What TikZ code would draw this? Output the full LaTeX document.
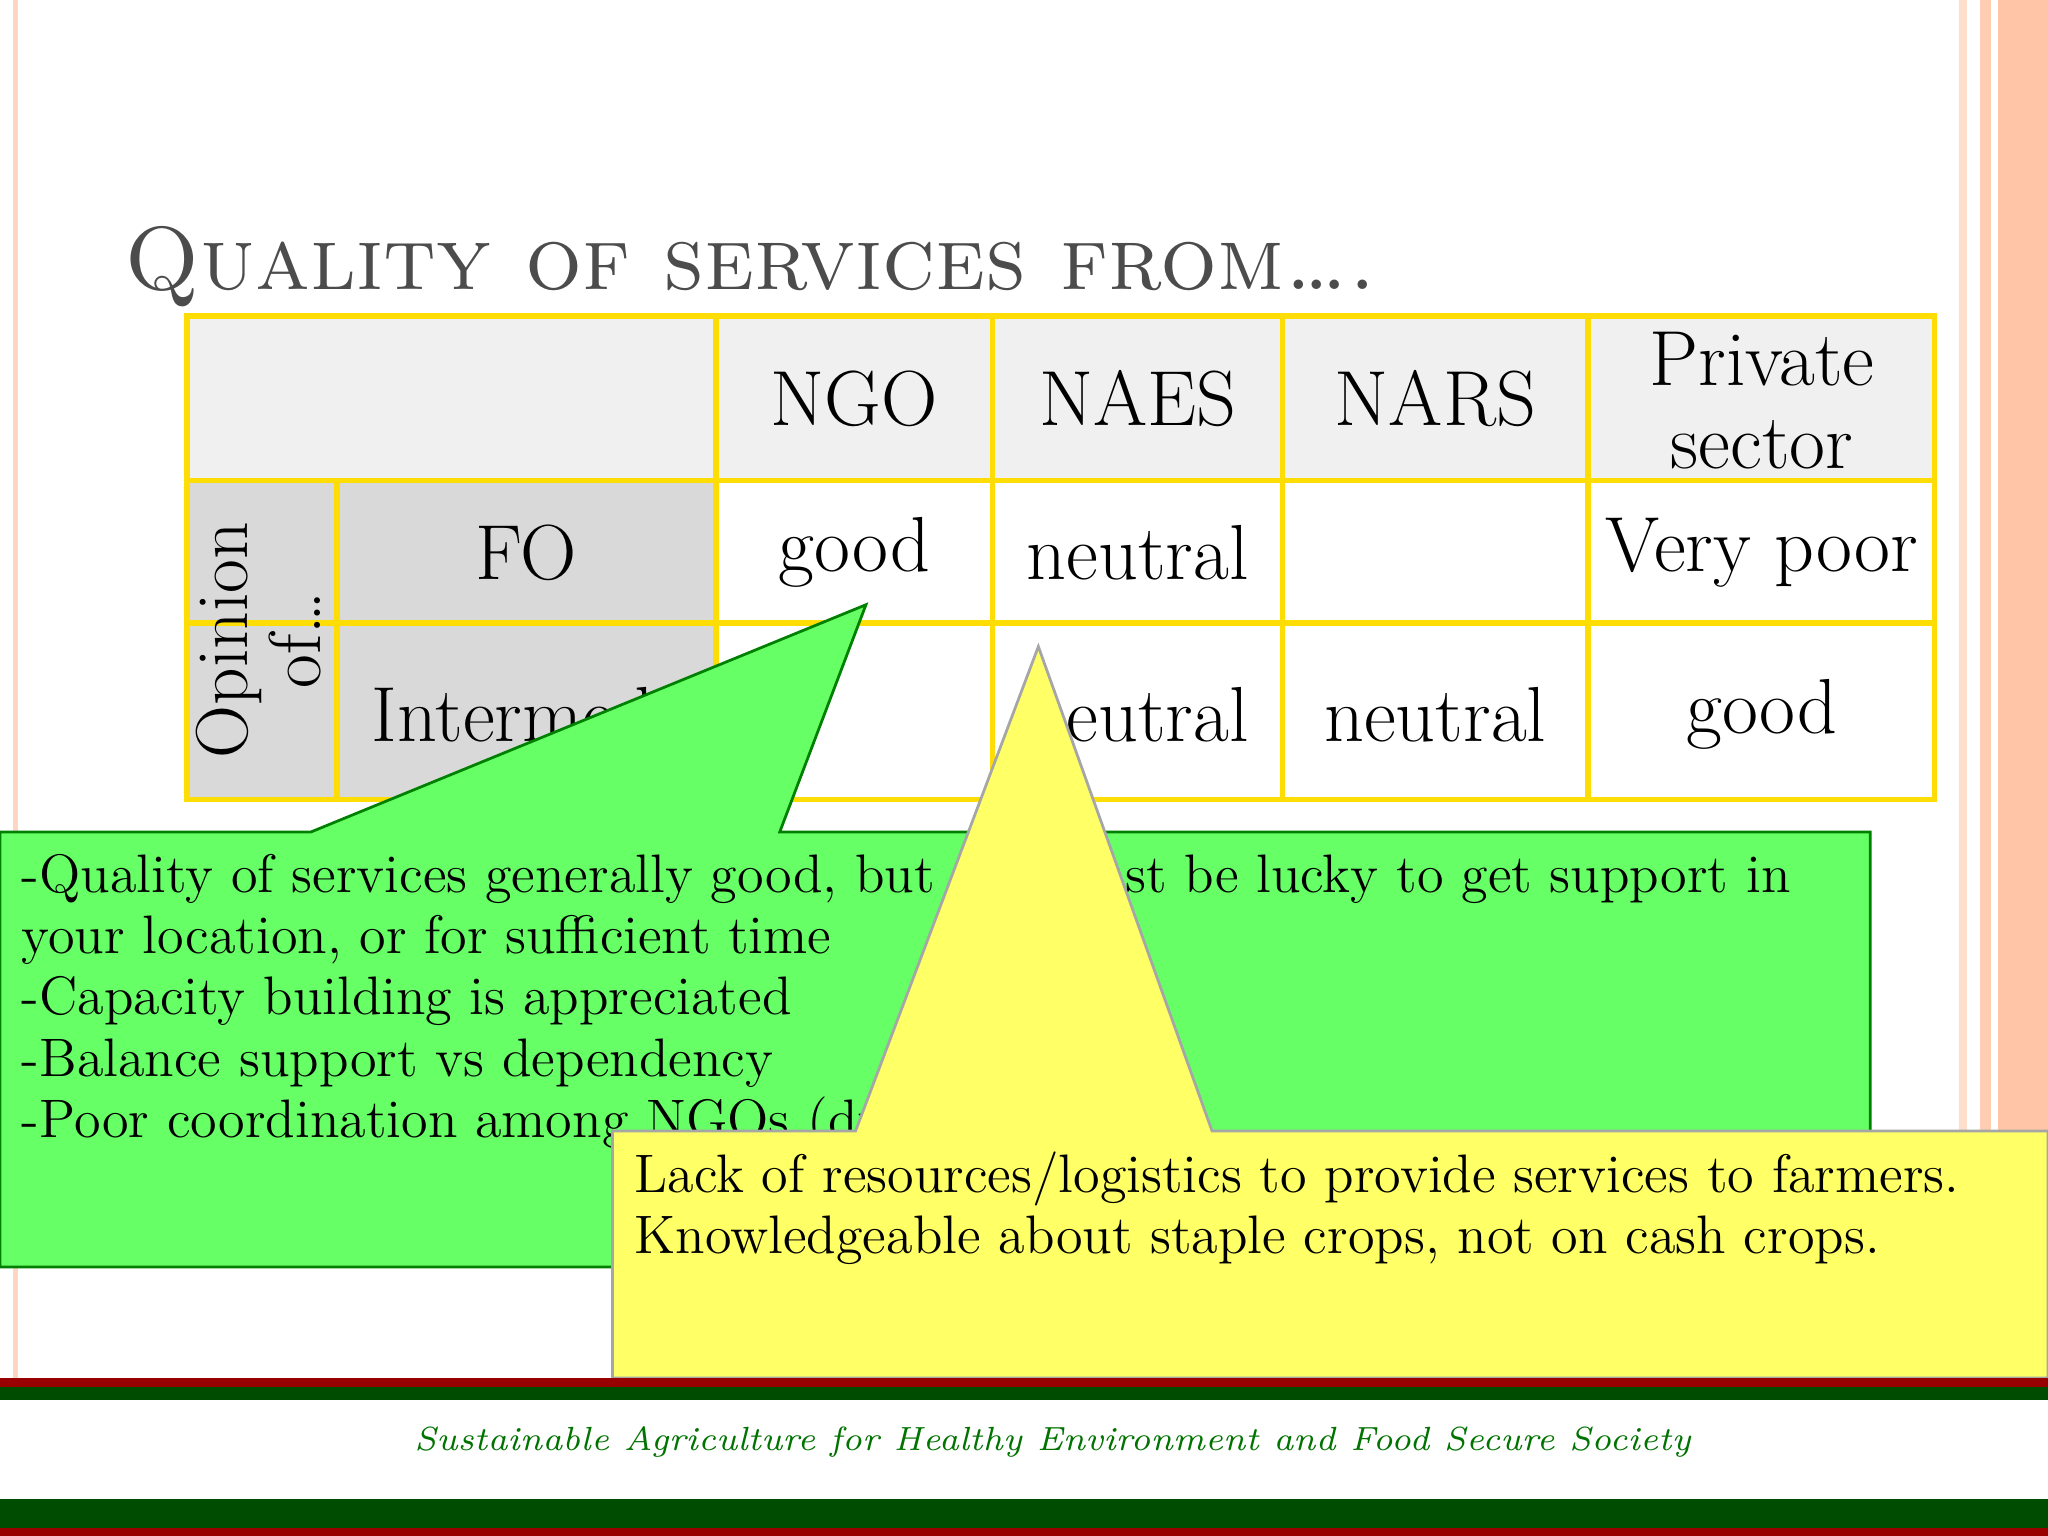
\documentclass[tikz,border=0pt]{standalone}
\begin{document}
\begin{tikzpicture}[x=0.01cm,y=-0.01cm,
  cellt/.style={font=\fontsize{17}{20}\selectfont},
  body/.style={anchor=base west,font=\fontsize{11.8}{13}\selectfont,inner sep=0pt}]
\useasboundingbox (0,0) rectangle (1568,1176);
\fill[white] (0,0) rectangle (1568,1176);
% side stripes
\fill[red!30!orange!25] (10,0) rectangle (14,1055);
\fill[red!30!orange!20] (1500,0) rectangle (1506,1055);
\fill[red!30!orange!30] (1516,0) rectangle (1524,1055);
\fill[red!30!orange!35] (1530,0) rectangle (1568,1055);
% title
\node[anchor=base west,inner sep=0pt,text=gray!60!black,font=\fontsize{19.5}{24}\selectfont\scshape] (title) at (95,222) {Quality of services from\ldots.};
% table fills
\fill[gray!12] (143,242) rectangle (1481,368);
\fill[gray!30] (143,368) rectangle (548,612);
\fill[white] (548,368) rectangle (1481,612);
\begin{scope}[draw=yellow!80!orange, line width=1.2pt]
\draw (143,242) rectangle (1481,612);
\foreach \y in {368,477} \draw (143,\y) -- (1481,\y);
\draw (143,368) -- (143,612);
\draw (258,368) -- (258,612);
\foreach \x in {548,760,982,1216} \draw (\x,242) -- (\x,612);
\end{scope}
\node[cellt] (h1) at (654,305) {NGO};
\node[cellt] (h2) at (871,305) {NAES};
\node[cellt] (h3) at (1099,305) {NARS};
\node[cellt,align=center] (h4) at (1349,307) {Private\\[-2pt]sector};
\node[font=\fontsize{16}{16}\selectfont,rotate=90,align=center] (op) at (198,490) {Opinion\\of\ldots};
\node[cellt] (r1) at (403,423) {FO};
\node[cellt,anchor=west,inner sep=0pt] (r2) at (284,547) {Intermediaries};
\node[cellt] (c11) at (654,423) {good};
\node[cellt] (c12) at (871,423) {neutral};
\node[cellt] (c14) at (1349,423) {Very poor};
\node[cellt] (c22) at (871,547) {neutral};
\node[cellt] (c23) at (1099,547) {neutral};
\node[cellt] (c24) at (1349,547) {good};
% green callout
\filldraw[fill={rgb,255:red,102;green,255;blue,102},draw=green!50!black,line width=0.6pt]
  (0,637) -- (238,637) -- (663,463) -- (597,637) -- (1432,637) -- (1432,970) -- (0,970) -- cycle;
\node[body] (g1) at (16,683) {-Quality of services generally good, but you must be lucky to get support in};
\node[body] (g2) at (16,730) {your location, or for sufficient time};
\node[body] (g3) at (16,777) {-Capacity building is appreciated};
\node[body] (g4) at (16,824) {-Balance support vs dependency};
\node[body] (g5) at (16,871) {-Poor coordination among NGOs (duplication)};
% yellow callout
\filldraw[fill={rgb,255:red,255;green,255;blue,102},draw=gray!70,line width=0.6pt]
  (469,866) -- (655,866) -- (795,495) -- (928,866) -- (1568,866) -- (1568,1055) -- (469,1055) -- cycle;
\node[body] (y1) at (485,913) {Lack of resources/logistics to provide services to farmers.};
\node[body] (y2) at (485,960) {Knowledgeable about staple crops, not on cash crops.};
% footer
\fill[red!60!black] (0,1055) rectangle (1568,1062);
\fill[green!30!black] (0,1062) rectangle (1568,1072);
\fill[green!30!black] (0,1148) rectangle (1568,1170);
\fill[red!60!black] (0,1170) rectangle (1568,1176);
\node[text=green!45!black,font=\fontsize{7.3}{9}\selectfont\itshape] (foot) at (806,1104) {Sustainable Agriculture for Healthy Environment and Food Secure Society};
\end{tikzpicture}
\end{document}
